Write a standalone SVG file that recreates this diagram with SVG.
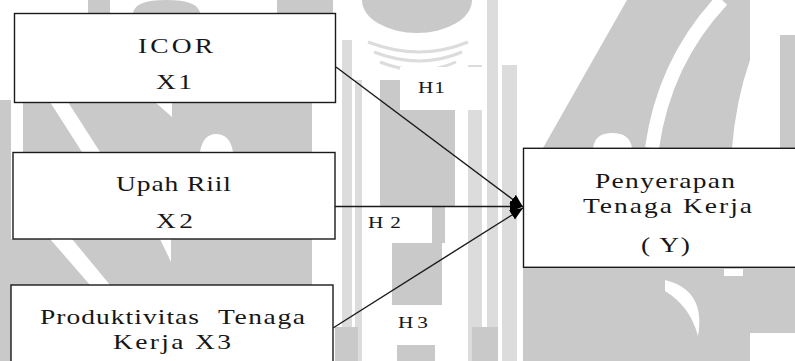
<svg xmlns="http://www.w3.org/2000/svg" width="795" height="361" viewBox="0 0 795 361">
  <style>
    .box { fill: #ffffff; stroke: #1a1a1a; stroke-width: 1.4; }
    .link { stroke: #1a1a1a; stroke-width: 1.4; fill: none; marker-end: url(#head); }
    .wm { fill: #c9c9c9; }
    .wl { fill: #dcdcdc; }
    .gap { fill: #ffffff; }
    text { font-family: "Liberation Serif", "Times New Roman", serif; fill: #161616; }
    .lbl { font-size: 22px; }
    .hyp { font-size: 17px; }
  </style>
  <defs>
    <marker id="head" markerUnits="userSpaceOnUse" markerWidth="14" markerHeight="12" refX="13" refY="6" orient="auto">
      <path d="M0,0.5 L13,6 L0,11.5 Z" fill="#000000"/>
    </marker>
  </defs>

  <rect width="795" height="361" fill="#ffffff"/>

  <!-- faint emblem in the background -->
  <g id="watermark">
    <!-- light trunk stripes -->
    <g class="wl">
      <rect x="342" y="40" width="10" height="321"/>
      <rect x="355" y="80" width="7" height="281"/>
      <rect x="468" y="65" width="14" height="296"/>
      <rect x="487" y="0" width="11" height="361"/>
      <rect x="502" y="65" width="15" height="296"/>
    </g>
    <g fill="none" stroke="#dcdcdc" stroke-width="3">
      <path d="M368,42 Q420,62 468,42"/>
      <path d="M374,52 Q420,70 462,52"/>
      <path d="M380,62 Q420,78 456,62"/>
    </g>
    <g class="wm">
      <!-- left half -->
      <rect x="0" y="100" width="11" height="261"/>
      <rect x="23" y="102" width="289" height="50"/>
      <rect x="0" y="239" width="312" height="46"/>
      <rect x="88" y="0" width="22" height="13"/>
      <path d="M133,13 Q135,0 166,0 Q198,0 200,13 Z"/>
      <rect x="277" y="0" width="56" height="13"/>
      <!-- crown and trunk -->
      <ellipse cx="417" cy="0" rx="55" ry="33"/>
      <path d="M380,80 H402 V110 H455 V207 H380 Z"/>
      <rect x="432" y="207" width="13" height="36"/>
      <rect x="392" y="243" width="50" height="62"/>
      <rect x="397" y="345" width="38" height="16"/>
      <rect x="335" y="327" width="23" height="34"/>
      <rect x="472" y="327" width="26" height="34"/>
      <!-- right wing -->
      <path d="M543,148 L627,0 H750 V60 Q736,100 732,148 Z"/>
      <rect x="780" y="35" width="15" height="113"/>
      <rect x="523" y="267" width="272" height="94"/>
    </g>
    <g class="gap">
      <path d="M50,102 H68 L100,152 H82 Z"/>
      <path d="M155,102 H172 V117 Z"/>
      <path d="M200,152 Q203,134 216,134 Q230,134 233,152 Z"/>
      <path d="M50,239 H72 L110,285 H90 Z"/>
      <path d="M160,239 H171 V262 Z"/>
      <path d="M593,148 Q595,133 612,133 Q630,133 632,148 Z"/>
      <path d="M665,280 Q706,290 698,336 Q690,306 665,291 Z"/>
      <rect x="750" y="333" width="45" height="28"/>
      <rect x="724" y="269" width="19" height="7"/>
    </g>
    <path d="M652,148 Q664,62 722,0" fill="none" stroke="#ffffff" stroke-width="14"/>
  </g>

  <!-- causal links: each regressor points at the dependent variable -->
  <g id="connectors">
    <g id="h1-label">
      <rect x="400" y="67" width="83" height="43" class="gap"/>
      <text class="hyp" transform="translate(418,93) scale(1.25,1)" textLength="21.6" lengthAdjust="spacing">H1</text>
    </g>
    <g id="h2-label">
      <rect x="362" y="207" width="70" height="36" class="gap"/>
      <text class="hyp" transform="translate(368,228) scale(1.25,1)" textLength="26.4" lengthAdjust="spacing">H2</text>
    </g>
    <g id="h3-label">
      <rect x="362" y="305" width="75" height="40" class="gap"/>
      <text class="hyp" transform="translate(398,328) scale(1.25,1)" textLength="24" lengthAdjust="spacing">H3</text>
    </g>
    <line class="link" x1="336" y1="67" x2="523" y2="207"/>
    <line class="link" x1="333" y1="206.5" x2="523" y2="206.5"/>
    <line class="link" x1="333" y1="328" x2="523" y2="208"/>
  </g>

  <g id="icor">
    <rect class="box" x="14.5" y="13.5" width="321" height="89"/>
    <text class="lbl" transform="translate(138,52.5) scale(1.25,1)" textLength="60" lengthAdjust="spacing">ICOR</text>
    <text class="lbl" transform="translate(156,89) scale(1.25,1)" textLength="28.8" lengthAdjust="spacing">X1</text>
  </g>

  <g id="upah-riil">
    <rect class="box" x="13" y="152.5" width="322" height="86.5"/>
    <text class="lbl" transform="translate(116,191) scale(1.25,1)" textLength="92" lengthAdjust="spacing">Upah Riil</text>
    <text class="lbl" transform="translate(156,228) scale(1.25,1)" textLength="29.6" lengthAdjust="spacing">X2</text>
  </g>

  <g id="produktivitas">
    <rect class="box" x="11" y="285" width="322" height="100"/>
    <text class="lbl" transform="translate(40,324) scale(1.25,1)"><tspan x="0" textLength="127.2" lengthAdjust="spacing">Produktivitas</tspan> <tspan x="142.4" textLength="69.6" lengthAdjust="spacing">Tenaga</tspan></text>
    <text class="lbl" transform="translate(113,349) scale(1.25,1)" textLength="94.4" lengthAdjust="spacing">Kerja X3</text>
  </g>

  <g id="penyerapan">
    <rect class="box" x="523.5" y="148.3" width="300" height="119"/>
    <text class="lbl" transform="translate(595,188) scale(1.25,1)" textLength="112" lengthAdjust="spacing">Penyerapan</text>
    <text class="lbl" transform="translate(583,213) scale(1.25,1)" textLength="135.2" lengthAdjust="spacing">Tenaga Kerja</text>
    <text class="lbl" transform="translate(641,252) scale(1.25,1)" textLength="39.2" lengthAdjust="spacing">( Y)</text>
  </g>
</svg>
